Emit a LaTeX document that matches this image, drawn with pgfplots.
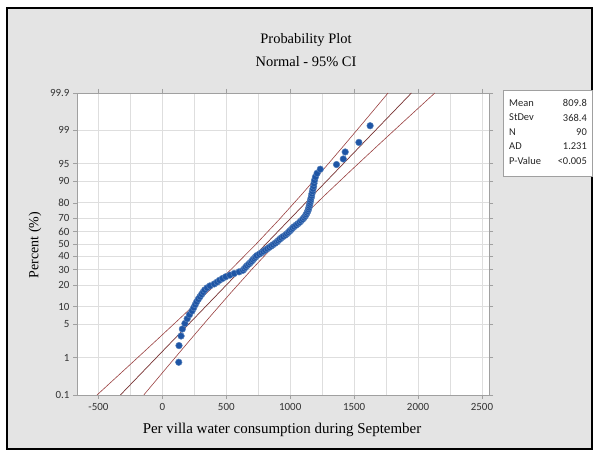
\documentclass[border=0pt]{standalone}
\usepackage{fontspec}
\setmainfont{Liberation Serif}
\newfontfamily\tickfont{Carlito}
\usepackage{pgfplots}
\usepackage{pgfplotstable}
\pgfplotsset{compat=1.18}
\definecolor{bggray}{RGB}{228,228,228}
\definecolor{gridgray}{RGB}{222,222,222}
\definecolor{axgray}{RGB}{160,160,160}
\definecolor{dotblue}{RGB}{30,85,165}
\definecolor{fitred}{RGB}{120,50,50}
\definecolor{cired}{RGB}{155,65,65}

\pgfplotstableread{
x z
128 -2.420
130 -2.079
146 -1.883
156 -1.740
176 -1.626
194 -1.530
212 -1.446
232 -1.371
245 -1.303
257 -1.241
268 -1.183
281 -1.129
294 -1.078
307 -1.030
319 -0.984
331 -0.940
349 -0.898
372 -0.857
405 -0.818
428 -0.779
447 -0.742
470 -0.706
495 -0.671
528 -0.637
562 -0.603
600 -0.570
630 -0.538
641 -0.506
651 -0.475
662 -0.444
675 -0.414
687 -0.384
698 -0.354
708 -0.325
718 -0.295
728 -0.267
738 -0.238
757 -0.209
774 -0.181
789 -0.153
803 -0.125
820 -0.097
836 -0.069
851 -0.042
866 -0.014
881 0.014
896 0.042
906 0.069
918 0.097
930 0.125
945 0.153
962 0.181
974 0.209
986 0.238
997 0.267
1008 0.295
1018 0.325
1030 0.354
1045 0.384
1060 0.414
1074 0.444
1085 0.475
1097 0.506
1108 0.538
1117 0.570
1125 0.603
1131 0.637
1137 0.671
1142 0.706
1146 0.742
1149 0.779
1153 0.818
1156 0.857
1159 0.898
1163 0.940
1167 0.984
1170 1.030
1174 1.078
1178 1.129
1183 1.183
1186 1.241
1190 1.303
1197 1.371
1210 1.446
1235 1.530
1362 1.626
1415 1.740
1430 1.883
1537 2.079
1625 2.420
}\datatable

\pgfplotstableread{
z fit lo hi
-3.0902 -328.6 -511.5 -145.7
-3.0 -295.4 -473.9 -116.9
-2.5 -111.2 -265.8 43.4
-2.0 73.0 -58.8 204.8
-1.5 257.2 146.2 368.2
-1.0 441.4 348.2 534.6
-0.5 625.6 544.9 706.3
0.0 809.8 733.7 885.9
0.5 994.0 913.3 1074.7
1.0 1178.2 1085.0 1271.4
1.5 1362.4 1251.4 1473.4
2.0 1546.6 1414.8 1678.4
2.5 1730.8 1576.2 1885.4
3.0 1915.0 1736.5 2093.5
3.0902 1948.2 1765.3 2131.1
}\fittable

\begin{document}
\begin{tikzpicture}[x=1bp,y=1bp]
\useasboundingbox (0,0) rectangle (599,457);
\fill[white] (0,0) rectangle (599,457);
\filldraw[fill=bggray, draw=black, line width=1.2bp] (7,8) rectangle (592,449);

\node[font=\fontsize{14.5}{16}\selectfont] at (306,417) {Probability Plot};
\node[font=\fontsize{14.5}{16}\selectfont] at (306,395) {Normal - 95\% CI};
\node[font=\fontsize{14}{16}\selectfont, rotate=90] at (35,212) {Percent (\%)};
\node[font=\fontsize{15}{17}\selectfont] at (282,27) {Per villa water consumption during September};

\begin{axis}[
  at={(77bp,62bp)}, anchor=south west,
  scale only axis, width=412bp, height=302bp,
  xmin=-668, xmax=2555,
  ymin=-3.0902, ymax=3.0902,
  axis background/.style={fill=white},
  axis line style={axgray, line width=0.8bp},
  tick align=outside,
  major tick length=4bp,
  minor tick length=0pt,
  tick style={axgray, line width=0.6bp},
  xtick={-500,0,500,1000,1500,2000,2500},
  xticklabels={-500,0,500,1000,1500,2000,2500},
  minor xtick={-250,250,750,1250,1750,2250},
  ytick={-3.0902,-2.3263,-1.6449,-1.2816,-0.8416,-0.5244,-0.2533,0,0.2533,0.5244,0.8416,1.2816,1.6449,2.3263,3.0902},
  yticklabels={0.1,1,5,10,20,30,40,50,60,70,80,90,95,99,99.9},
  ticklabel style={font=\tickfont\fontsize{11}{12}\selectfont, text=black!80},
  xticklabel style={yshift=-1bp},
  grid=both,
  major grid style={gridgray, line width=0.9bp},
  minor grid style={gridgray, line width=0.9bp},
  clip=true,
]
\addplot[cired, line width=0.6bp] table[x=lo, y=z] {\fittable};
\addplot[cired, line width=0.6bp] table[x=hi, y=z] {\fittable};
\addplot[fitred, line width=0.7bp] table[x=fit, y=z] {\fittable};
\addplot[only marks, mark=*, mark size=3.3bp, mark options={fill=dotblue, draw=dotblue!75!white, line width=0.5bp}] table[x=x, y=z] {\datatable};
\end{axis}

\filldraw[fill=white, draw=axgray, line width=0.8bp] (503,367) rectangle (592,281);
\begin{scope}[every node/.style={font=\tickfont\fontsize{10.5}{12}\selectfont, text=black!85, inner sep=0pt}]
\node[anchor=west] at (509,354) {Mean};
\node[anchor=east] at (587,354) {809.8};
\node[anchor=west] at (509,339.5) {StDev};
\node[anchor=east] at (587,339.5) {368.4};
\node[anchor=west] at (509,325) {N};
\node[anchor=east] at (587,325) {90};
\node[anchor=west] at (509,310.5) {AD};
\node[anchor=east] at (587,310.5) {1.231};
\node[anchor=west] at (509,296) {P-Value};
\node[anchor=east] at (587,296) {<0.005};
\end{scope}
\end{tikzpicture}
\end{document}
